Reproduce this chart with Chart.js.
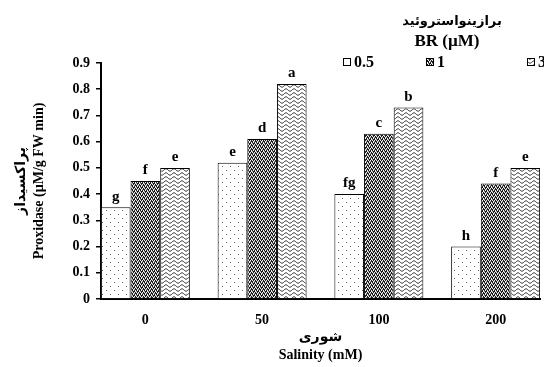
<!DOCTYPE html>
<html>
<head>
<meta charset="utf-8">
<script src="https://cdn.jsdelivr.net/npm/chart.js@4/dist/chart.umd.min.js"></script>
<style>
html, body { margin: 0; padding: 0; background: #fff; }
</style>
</head>
<body>
<canvas id="peroxidaseChart" width="544" height="367"></canvas>
<script>
// salinity levels (mM) and brassinosteroid levels (µM)
var salinity = ['0', '50', '100', '200'];
var brLevels = ['0.5', '1', '3'];

// peroxidase activity
var br05 = [0.35, 0.52, 0.40, 0.20];
var br1 = [0.45, 0.61, 0.63, 0.44];
var br3 = [0.50, 0.82, 0.73, 0.50];

// significance letters above each bar
var letters05 = ['g', 'e', 'fg', 'h'];
var letters1 = ['f', 'd', 'c', 'f'];
var letters3 = ['e', 'a', 'b', 'e'];

var yTickLabels = ['0', '0.1', '0.2', '0.3', '0.4', '0.5', '0.6', '0.7', '0.8', '0.9'];

var serif = '"Liberation Serif", "Times New Roman", "DejaVu Sans", serif';

function makePattern(kind) {
    var c = document.createElement('canvas');
    var g = c.getContext('2d');
    if (kind === 'dots') {
        c.width = 8; c.height = 8;
        g.fillStyle = '#fff';
        g.fillRect(0, 0, 8, 8);
        g.fillStyle = '#666';
        g.fillRect(2, 2, 1, 1);
        g.fillRect(6, 6, 1, 1);
    } else if (kind === 'dark') {
        c.width = 4; c.height = 4;
        g.fillStyle = '#1a1a1a';
        g.fillRect(0, 0, 4, 4);
        g.fillStyle = '#eeeeee';
        [[0, 0], [2, 0], [1, 2], [3, 2], [1, 1], [3, 3]].forEach(function (p) { g.fillRect(p[0], p[1], 1, 1); });
        g.fillStyle = '#999';
        [[0, 3], [2, 1]].forEach(function (p) { g.fillRect(p[0], p[1], 1, 1); });
    } else {
        c.width = 8; c.height = 4;
        g.fillStyle = '#fff';
        g.fillRect(0, 0, 8, 4);
        g.strokeStyle = '#111';
        g.lineWidth = 0.9;
        g.beginPath();
        for (var x = 0; x <= 8; x += 0.5) {
            var y = 2 + 1.2 * Math.sin(x / 8 * 2 * Math.PI);
            if (x === 0) g.moveTo(x, y); else g.lineTo(x, y);
        }
        g.stroke();
    }
    return document.getElementById('peroxidaseChart').getContext('2d').createPattern(c, 'repeat');
}

function toPoints(values) {
    return values.map(function (v, i) { return { x: i, y: v }; });
}

var letterSets = [letters05, letters1, letters3];

var annotations = {
    id: 'annotations',
    afterDatasetsDraw: function (chart) {
        var ctx = chart.ctx;
        ctx.save();
        ctx.fillStyle = '#000';
        ctx.font = 'bold 15px ' + serif;
        ctx.textAlign = 'center';
        ctx.textBaseline = 'bottom';
        chart.data.datasets.forEach(function (ds, di) {
            chart.getDatasetMeta(di).data.forEach(function (bar, i) {
                ctx.fillText(letterSets[di][i], bar.x, bar.y - 3);
            });
        });

        // key at the top right
        ctx.textAlign = 'center';
        ctx.textBaseline = 'middle';
        ctx.font = 'bold 13px ' + serif;
        ctx.fillText('برازینواستروئید', 452, 22);
        ctx.font = 'bold 17px ' + serif;
        ctx.fillText('BR (µM)', 447, 42);

        var swatchX = [343, 426, 527];
        ctx.textAlign = 'left';
        ctx.font = 'bold 16px ' + serif;
        chart.data.datasets.forEach(function (ds, di) {
            ctx.fillStyle = ds.backgroundColor;
            ctx.fillRect(swatchX[di], 58, 8, 8);
            ctx.strokeStyle = '#000';
            ctx.lineWidth = 1;
            ctx.strokeRect(swatchX[di] + 0.5, 58.5, 7, 7);
            ctx.fillStyle = '#000';
            ctx.fillText(ds.label, swatchX[di] + 11, 63);
        });
        ctx.restore();
    }
};

var ctx = document.getElementById('peroxidaseChart').getContext('2d');

var chart = new Chart(ctx, {
    type: 'bar',
    data: {
        datasets: [{
            label: brLevels[0],
            data: toPoints(br05),
            backgroundColor: makePattern('dots'),
            borderColor: '#000',
            borderWidth: 1
        }, {
            label: brLevels[1],
            data: toPoints(br1),
            backgroundColor: makePattern('dark'),
            borderColor: '#000',
            borderWidth: 1
        }, {
            label: brLevels[2],
            data: toPoints(br3),
            backgroundColor: makePattern('waves'),
            borderColor: '#000',
            borderWidth: 1
        }]
    },
    options: {
        responsive: false,
        animation: false,
        devicePixelRatio: 1,
        barPercentage: 1,
        categoryPercentage: 0.762,
        layout: { padding: { top: 63, right: 4, left: 0, bottom: 0 } },
        plugins: {
            legend: { display: false },
            tooltip: { enabled: false }
        },
        scales: {
            x: {
                type: 'linear',
                min: -0.38,
                max: 3.38,
                offset: false,
                grid: { display: false },
                border: { color: '#000', width: 2 },
                afterBuildTicks: function (scale) {
                    scale.ticks = salinity.map(function (s, i) { return { value: i }; });
                },
                afterFit: function (scale) { scale.height = 68; },
                ticks: {
                    autoSkip: false,
                    maxRotation: 0,
                    padding: 5,
                    color: '#000',
                    font: { family: serif, size: 14, weight: 'bold' },
                    callback: function (v) { return salinity[v]; }
                },
                title: {
                    display: true,
                    text: ['شوری', 'Salinity (mM)'],
                    color: '#000',
                    font: { family: serif, size: 14, weight: 'bold', lineHeight: 1.25 },
                    padding: { top: 2, bottom: 3 }
                }
            },
            y: {
                min: 0,
                max: 0.9,
                afterFit: function (scale) { scale.width = 101; },
                grid: { drawOnChartArea: false, color: '#000', tickLength: 5, lineWidth: 1.5 },
                border: { color: '#000', width: 2 },
                ticks: {
                    stepSize: 0.1,
                    padding: 6,
                    color: '#000',
                    font: { family: serif, size: 14, weight: 'bold' },
                    callback: function (v, i) { return yTickLabels[i]; }
                },
                title: {
                    display: true,
                    text: ['پراکسیداز', 'Proxidase (µM/g FW min)'],
                    color: '#000',
                    font: { family: serif, size: 14, weight: 'bold', lineHeight: 1.3 },
                    padding: { top: 12, bottom: 0 }
                }
            }
        }
    },
    plugins: [annotations]
});
</script>
</body>
</html>
